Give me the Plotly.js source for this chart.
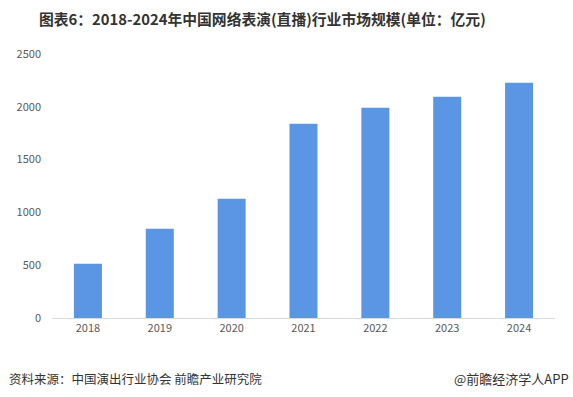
<!DOCTYPE html>
<html>
<head>
<meta charset="utf-8">
<script src="https://cdn.plot.ly/plotly-3.0.1.min.js"></script>
<style>html,body{margin:0;padding:0;background:#fff;}#chart{width:573px;height:397px;}</style>
</head>
<body>
<div id="chart"></div>
<script>
const years = ['2018','2019','2020','2021','2022','2023','2024'];
const marketSize = [514, 846, 1130, 1840, 1991, 2096, 2228];
const yTicks = [0, 500, 1000, 1500, 2000, 2500];
const titleText = '图表6：2018-2024年中国网络表演(直播)行业市场规模(单位：亿元)';
const sourceText = '资料来源：中国演出行业协会 前瞻产业研究院';
const creditText = '@前瞻经济学人APP';

const cjk = '"Microsoft YaHei", "Noto Sans CJK SC", sans-serif';

const data = [{
  type: 'bar',
  x: years,
  y: marketSize,
  marker: {color: '#5B96E5'},
  hoverinfo: 'x+y'
}];

const layout = {
  width: 573, height: 397,
  margin: {l: 52, r: 18, t: 54, b: 79},
  paper_bgcolor: '#fff', plot_bgcolor: '#fff',
  bargap: 0.61,
  showlegend: false,
  title: {
    text: '<b>' + titleText + '</b>',
    x: 39/573, xanchor: 'left', xref: 'container',
    y: 1 - 20/397, yanchor: 'middle', yref: 'container',
    font: {family: cjk, size: 14.8, color: '#333333'}
  },
  xaxis: {
    type: 'category',
    showgrid: false, zeroline: false,
    showline: true, linecolor: '#d9d9d9', linewidth: 1,
    ticks: '',
    tickfont: {family: cjk, size: 11, color: '#595959'},
    fixedrange: true
  },
  yaxis: {
    range: [0, 2500],
    tickvals: yTicks,
    showgrid: false, zeroline: false, showline: false,
    ticks: '',
    ticklabelstandoff: 10,
    tickfont: {family: cjk, size: 11, color: '#595959'},
    fixedrange: true
  },
  annotations: [
    {text: sourceText, xref: 'paper', yref: 'paper', x: -45/503, y: -60/264,
     xanchor: 'left', yanchor: 'middle', showarrow: false,
     font: {family: cjk, size: 12.5, color: '#333333'}},
    {text: creditText, xref: 'paper', yref: 'paper', x: 1 + 16/503, y: -60/264,
     xanchor: 'right', yanchor: 'middle', showarrow: false,
     font: {family: cjk, size: 13, color: '#333333'}}
  ]
};

Plotly.newPlot('chart', data, layout, {displayModeBar: false, staticPlot: true});
</script>
</body>
</html>
